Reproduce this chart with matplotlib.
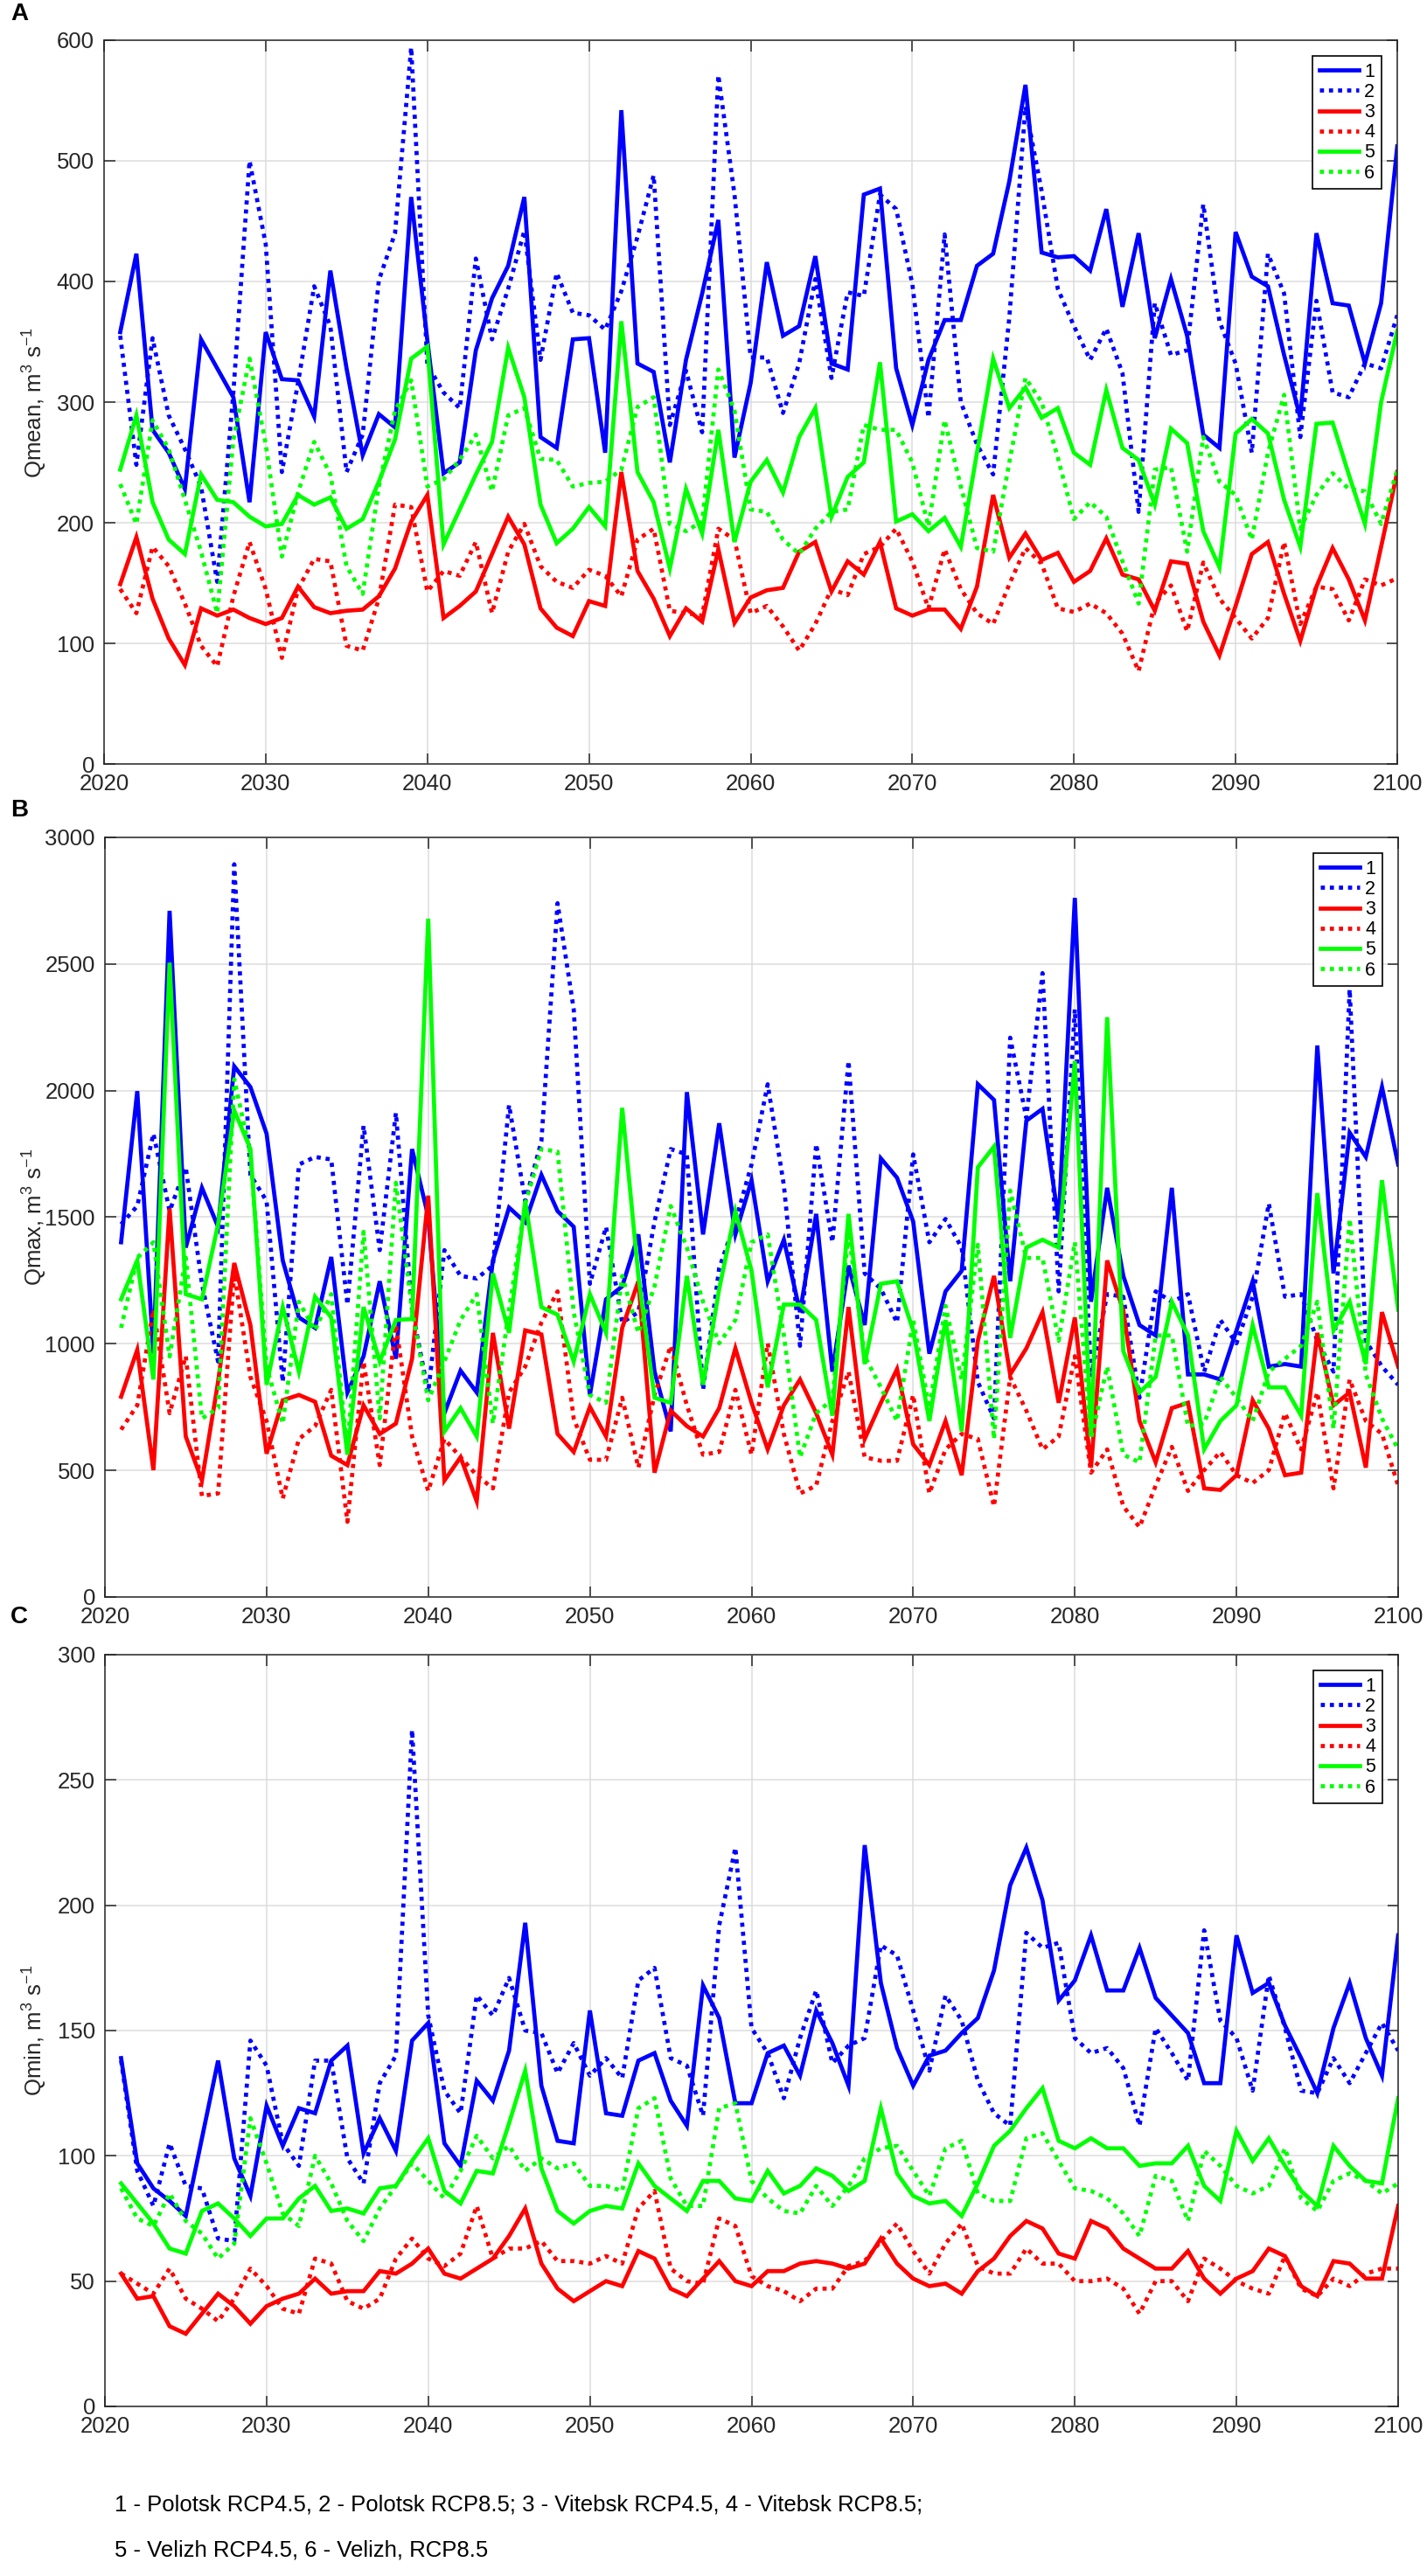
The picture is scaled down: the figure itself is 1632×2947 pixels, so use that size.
import numpy as np
import matplotlib
matplotlib.use("Agg")
import matplotlib.pyplot as plt

# --------------------
# Data
# --------------------
years = np.arange(2021, 2101)
series_labels = ["1", "2", "3", "4", "5", "6"]

# Panel A: mean discharge
qmean_1 = [358, 423, 277, 258, 228, 352, 328, 304, 217, 358,
           319, 318, 288, 409, 328, 256, 290, 279, 470, 351,
           241, 250, 343, 386, 413, 470, 271, 262, 352, 353,
           258, 542, 332, 325, 250, 335, 390, 451, 254, 316,
           416, 355, 363, 421, 332, 327, 472, 477, 328, 281,
           335, 368, 368, 413, 423, 483, 563, 424, 420, 421,
           409, 460, 379, 440, 353, 402, 355, 273, 262, 441,
           404, 396, 339, 287, 440, 382, 380, 332, 382, 512]
qmean_2 = [355, 248, 353, 289, 261, 230, 151, 308, 500, 431,
           242, 316, 396, 363, 242, 273, 401, 440, 594, 331,
           308, 295, 419, 352, 394, 442, 335, 407, 374, 372,
           360, 392, 437, 488, 281, 326, 275, 571, 472, 337,
           337, 291, 332, 402, 320, 391, 388, 472, 460, 398,
           287, 439, 300, 265, 240, 370, 545, 475, 394, 363,
           335, 361, 324, 209, 382, 339, 343, 464, 367, 332,
           258, 423, 390, 271, 384, 308, 304, 332, 328, 372]
qmean_3 = [149, 188, 137, 104, 82, 129, 123, 128, 121, 116,
           121, 147, 130, 125, 127, 128, 139, 162, 201, 223,
           121, 131, 143, 174, 205, 182, 129, 113, 106, 135,
           131, 242, 160, 137, 106, 129, 118, 178, 117, 138,
           144, 146, 176, 184, 143, 168, 157, 184, 129, 123,
           128, 128, 112, 147, 223, 171, 191, 169, 175, 151,
           160, 187, 157, 153, 127, 168, 166, 118, 90, 131,
           174, 184, 141, 102, 147, 179, 153, 119, 180, 242]
qmean_4 = [145, 125, 180, 164, 133, 98, 81, 139, 184, 145,
           88, 145, 170, 168, 98, 94, 137, 215, 213, 143,
           160, 156, 184, 125, 176, 199, 164, 151, 146, 161,
           156, 139, 186, 195, 127, 125, 123, 195, 186, 125,
           131, 114, 94, 116, 145, 140, 174, 180, 195, 168,
           129, 178, 145, 125, 116, 149, 179, 166, 129, 126,
           133, 125, 108, 77, 133, 148, 110, 167, 137, 121,
           104, 121, 184, 116, 147, 145, 119, 153, 148, 154]
qmean_5 = [244, 289, 217, 186, 174, 240, 219, 217, 205, 197,
           199, 223, 215, 221, 195, 203, 234, 269, 336, 346,
           182, 211, 240, 267, 345, 304, 215, 183, 195, 213,
           197, 367, 242, 217, 162, 228, 191, 277, 184, 234,
           252, 225, 271, 295, 205, 238, 250, 333, 201, 207,
           193, 204, 180, 258, 336, 295, 312, 287, 295, 258,
           248, 310, 262, 252, 215, 278, 266, 193, 163, 274,
           286, 274, 219, 180, 282, 283, 240, 199, 300, 359]
qmean_6 = [232, 199, 285, 261, 219, 176, 125, 269, 336, 265,
           172, 225, 267, 240, 164, 141, 230, 293, 318, 230,
           236, 252, 273, 226, 289, 295, 253, 252, 230, 233,
           234, 244, 296, 304, 199, 193, 201, 327, 293, 211,
           209, 186, 174, 195, 209, 211, 281, 277, 277, 250,
           197, 285, 230, 179, 176, 250, 320, 300, 254, 203,
           217, 205, 168, 133, 244, 246, 176, 271, 234, 223,
           186, 258, 306, 195, 223, 241, 228, 226, 199, 244]

# Panel B: maximum discharge
qmax_1 = [1401, 1998, 961, 2710, 1380, 1616, 1462, 2096, 2014, 1830,
          1329, 1104, 1063, 1343, 808, 951, 1247, 941, 1769, 1503,
          726, 894, 808, 1329, 1538, 1480, 1667, 1524, 1462, 798,
          1176, 1227, 1432, 890, 654, 1994, 1432, 1871, 1432, 1646,
          1247, 1411, 1125, 1513, 890, 1309, 1074, 1732, 1656, 1483,
          961, 1207, 1288, 2025, 1963, 1247, 1881, 1928, 1483, 2761,
          1166, 1616, 1268, 1074, 1033, 1616, 879, 879, 859, 1053,
          1247, 910, 920, 910, 2178, 1278, 1834, 1738, 2014, 1708]
qmax_2 = [1472, 1544, 1830, 1524, 1697, 1237, 930, 2894, 1667, 1564,
          849, 1708, 1738, 1728, 1155, 1861, 1370, 1912, 1135, 808,
          1370, 1268, 1258, 1309, 1943, 1564, 1800, 2740, 2321, 1237,
          1462, 1084, 1125, 1483, 1769, 1748, 818, 1299, 1483, 1708,
          2025, 1626, 992, 1789, 1401, 2117, 1278, 1217, 1084, 1748,
          1401, 1493, 1380, 849, 705, 2209, 1892, 2464, 1207, 2321,
          869, 1196, 1186, 787, 1207, 1166, 1196, 890, 1094, 1002,
          1186, 1554, 1186, 1196, 1012, 890, 2400, 1012, 910, 838]
qmax_3 = [791, 976, 501, 1534, 634, 460, 850, 1319, 1074, 566,
          777, 798, 771, 558, 521, 757, 644, 685, 941, 1585,
          460, 552, 378, 1043, 665, 1053, 1037, 644, 573, 751,
          634, 1063, 1247, 491, 736, 675, 634, 746, 982, 767,
          583, 757, 859, 726, 562, 1145, 624, 767, 900, 603,
          521, 695, 481, 1012, 1268, 879, 982, 1125, 767, 1104,
          511, 1329, 1130, 695, 532, 746, 767, 429, 423, 481,
          777, 665, 481, 491, 1043, 757, 808, 511, 1125, 910]
qmax_4 = [661, 757, 1135, 726, 951, 399, 409, 1278, 869, 695,
          389, 624, 675, 818, 297, 930, 521, 1074, 634, 419,
          624, 552, 481, 429, 808, 910, 1084, 1207, 705, 542,
          542, 787, 511, 798, 992, 757, 562, 573, 818, 562,
          1002, 644, 409, 440, 695, 890, 552, 538, 538, 798,
          409, 583, 644, 624, 358, 869, 736, 583, 634, 951,
          491, 583, 358, 276, 440, 593, 419, 501, 573, 481,
          450, 501, 726, 583, 808, 429, 859, 695, 644, 440]
qmax_5 = [1176, 1329, 859, 2505, 1196, 1176, 1472, 1922, 1769, 838,
          1145, 890, 1186, 1104, 562, 1145, 930, 1094, 1098, 2679,
          654, 746, 634, 1278, 1043, 1564, 1145, 1115, 930, 1196,
          1043, 1932, 1268, 787, 767, 1268, 838, 1217, 1524, 1288,
          828, 1155, 1155, 1094, 716, 1513, 920, 1237, 1247, 1053,
          695, 1094, 654, 1697, 1779, 1023, 1380, 1411, 1380, 2117,
          634, 2290, 971, 808, 869, 1166, 1033, 583, 695, 757,
          1074, 828, 828, 716, 1595, 1053, 1166, 920, 1646, 1135]
qmax_6 = [1063, 1339, 1401, 950, 1340, 705, 746, 2045, 1748, 910,
          685, 1166, 1053, 1196, 583, 1442, 705, 1636, 1135, 777,
          930, 1094, 1196, 685, 1135, 1554, 1769, 1759, 1125, 798,
          767, 1268, 1043, 1227, 1544, 1380, 1166, 1002, 1094, 1401,
          1432, 1033, 552, 726, 780, 1442, 951, 828, 695, 1094,
          746, 1150, 859, 1391, 624, 1605, 1339, 1339, 1012, 1401,
          624, 910, 562, 532, 1033, 1033, 675, 685, 869, 787,
          695, 890, 941, 992, 1166, 665, 1493, 879, 705, 583]

# Panel C: minimum discharge
qmin_1 = [139, 97, 87, 82, 76, 107, 138, 99, 84, 120,
          104, 119, 117, 138, 144, 101, 115, 102, 146, 153,
          105, 96, 130, 122, 142, 193, 128, 106, 105, 158,
          117, 116, 138, 141, 122, 112, 168, 155, 121, 121,
          141, 144, 132, 158, 145, 128, 224, 169, 143, 128,
          140, 142, 149, 155, 174, 208, 223, 202, 162, 170,
          188, 166, 166, 183, 163, 156, 149, 129, 129, 188,
          165, 169, 152, 139, 125, 151, 169, 147, 132, 188]
qmin_2 = [138, 94, 80, 105, 88, 87, 67, 66, 146, 136,
          105, 96, 138, 138, 99, 89, 129, 140, 270, 156,
          126, 117, 164, 156, 171, 150, 149, 133, 145, 132,
          139, 131, 170, 175, 139, 136, 116, 192, 223, 151,
          141, 123, 147, 166, 137, 144, 147, 184, 180, 158,
          134, 164, 154, 130, 117, 112, 189, 183, 185, 147,
          141, 143, 135, 112, 151, 141, 130, 190, 154, 147,
          126, 172, 151, 126, 125, 139, 129, 141, 153, 142]
qmin_3 = [53, 43, 44, 32, 29, 37, 45, 40, 33, 40,
          43, 45, 51, 45, 46, 46, 54, 53, 57, 63,
          53, 51, 55, 59, 68, 79, 57, 47, 42, 46,
          50, 48, 62, 59, 47, 44, 51, 58, 50, 48,
          54, 54, 57, 58, 57, 55, 57, 67, 57, 51,
          48, 49, 45, 54, 59, 68, 74, 71, 61, 59,
          74, 71, 63, 59, 55, 55, 62, 51, 45, 51,
          54, 63, 60, 48, 44, 58, 57, 51, 51, 80]
qmin_4 = [53, 49, 45, 55, 43, 39, 34, 43, 55, 48,
          39, 37, 59, 57, 42, 39, 43, 59, 67, 59,
          56, 61, 80, 59, 63, 63, 66, 58, 58, 57,
          60, 57, 79, 86, 55, 50, 49, 75, 72, 52,
          48, 46, 42, 47, 47, 56, 58, 66, 73, 62,
          53, 65, 73, 56, 53, 53, 63, 57, 57, 50,
          50, 51, 47, 37, 50, 50, 42, 59, 55, 50,
          47, 45, 60, 47, 44, 51, 48, 53, 55, 55]
qmin_5 = [89, 81, 73, 63, 61, 78, 81, 75, 68, 75,
          75, 83, 88, 78, 79, 77, 87, 88, 98, 107,
          86, 81, 94, 93, 113, 134, 95, 78, 73, 78,
          80, 79, 97, 88, 83, 78, 90, 90, 83, 82,
          94, 85, 88, 95, 92, 86, 90, 119, 93, 84,
          81, 82, 76, 89, 104, 110, 119, 127, 106, 103,
          107, 103, 103, 96, 97, 97, 104, 88, 82, 110,
          98, 107, 96, 86, 80, 104, 96, 90, 89, 123]
qmin_6 = [87, 75, 72, 85, 74, 69, 59, 65, 115, 97,
          77, 72, 100, 89, 74, 66, 79, 88, 97, 90,
          83, 94, 108, 99, 104, 94, 99, 95, 97, 88,
          88, 86, 119, 123, 91, 80, 80, 119, 121, 90,
          83, 78, 77, 88, 80, 88, 99, 103, 104, 94,
          84, 103, 106, 85, 82, 82, 107, 109, 98, 87,
          86, 83, 77, 68, 92, 90, 74, 102, 96, 88,
          85, 88, 103, 83, 78, 90, 93, 90, 85, 89]

footnote_lines = ["1 - Polotsk RCP4.5, 2 - Polotsk RCP8.5; 3 - Vitebsk RCP4.5, 4 - Vitebsk RCP8.5;",
                  "5 - Velizh RCP4.5, 6 - Velizh, RCP8.5"]

# --------------------
# Style
# --------------------
plt.rcParams["font.family"] = ["Liberation Sans", "DejaVu Sans"]
plt.rcParams["mathtext.fontset"] = "custom"
plt.rcParams["mathtext.rm"] = "Liberation Sans"
plt.rcParams["mathtext.it"] = "Liberation Sans:italic"
plt.rcParams["mathtext.bf"] = "Liberation Sans:bold"

BLUE, RED, GREEN = "#0000ff", "#ff0000", "#00ff00"
colors = [BLUE, BLUE, RED, RED, GREEN, GREEN]
DOTTED = (0, (1.0, 1.2))
styles = ["-", DOTTED, "-", DOTTED, "-", DOTTED]
TXT = "#262626"
FS = 18.5

W, H = 1632, 2947


def axes_rect(left, right, top, bottom):
    return [left / W, 1 - bottom / H, (right - left) / W, (bottom - top) / H]


panels = [
    dict(rect=axes_rect(119, 1598, 46, 874), data=[qmean_1, qmean_2, qmean_3, qmean_4, qmean_5, qmean_6],
         ylim=600, ystep=100, ylabel=r"Qmean, m$^{3}$ s$^{-1}$", letter="A", letter_y=16),
    dict(rect=axes_rect(120, 1599, 958, 1827), data=[qmax_1, qmax_2, qmax_3, qmax_4, qmax_5, qmax_6],
         ylim=3000, ystep=500, ylabel=r"Qmax, m$^{3}$ s$^{-1}$", letter="B", letter_y=927),
    dict(rect=axes_rect(120, 1599, 1893, 2753), data=[qmin_1, qmin_2, qmin_3, qmin_4, qmin_5, qmin_6],
         ylim=300, ystep=50, ylabel=r"Qmin, m$^{3}$ s$^{-1}$", letter="C", letter_y=1850),
]

fig = plt.figure(figsize=(W / 100, H / 100), dpi=100)

for p in panels:
    ax = fig.add_axes(p["rect"])
    for vals, lab, col, ls in zip(p["data"], series_labels, colors, styles):
        assert len(vals) == len(years)
        ax.plot(years, vals, color=col, linestyle=ls, linewidth=3.4, label=lab,
                dash_capstyle="butt", solid_joinstyle="miter")

    ax.set_xlim(2020, 2100)
    ax.set_ylim(0, p["ylim"])
    ax.set_xticks(np.arange(2020, 2101, 10))
    ax.set_yticks(np.arange(0, p["ylim"] + 1, p["ystep"]))
    ax.grid(True, color="#dcdcdc", linewidth=1.1)
    ax.set_axisbelow(True)
    ax.tick_params(direction="in", top=True, right=True, length=9, width=1.1,
                   color=TXT, labelcolor=TXT, labelsize=FS, pad=8)
    for s in ax.spines.values():
        s.set_color(TXT)
        s.set_linewidth(1.1)

    # y label placed so its right side sits ~56 px from the figure edge
    left_px = p["rect"][0] * W
    width_px = p["rect"][2] * W
    ax.set_ylabel(p["ylabel"], fontsize=FS, color=TXT)
    ax.yaxis.set_label_coords((56 - left_px) / width_px, 0.5)

    leg = ax.legend(loc="upper right", fontsize=15.5, handlelength=2.1, handletextpad=0.3,
                    labelspacing=0.1, borderpad=0.35, borderaxespad=0.85,
                    fancybox=False, framealpha=1, edgecolor="black")
    leg.get_frame().set_linewidth(1.2)

    fig.text(12 / W, 1 - p["letter_y"] / H, p["letter"], fontsize=20, fontweight="bold",
             ha="left", va="center", color="black")

fig.text(131 / W, 1 - 2866 / H, footnote_lines[0], fontsize=FS, ha="left", va="center", color="black")
fig.text(131 / W, 1 - 2918 / H, footnote_lines[1], fontsize=FS, ha="left", va="center", color="black")

fig.savefig("out.png", dpi=100)
print("[OK] Saved plot to out.png")
